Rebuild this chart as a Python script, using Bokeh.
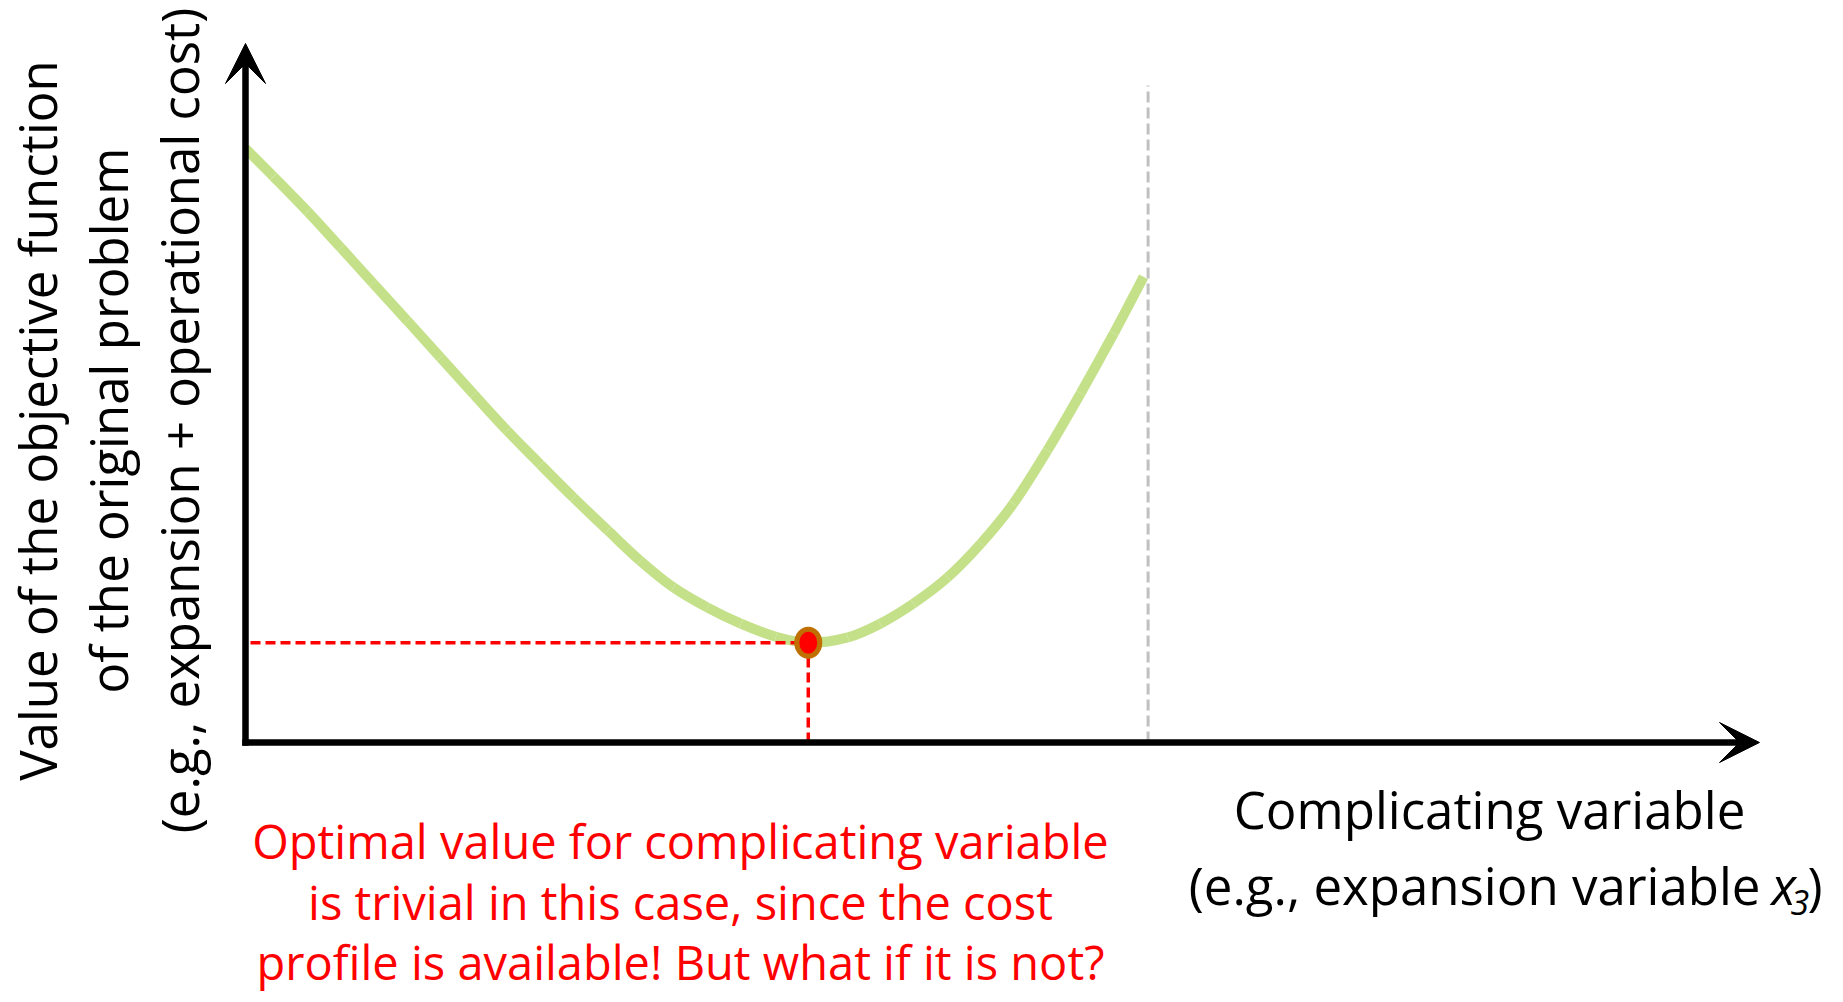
from bokeh.plotting import figure
from bokeh.models import Arrow, VeeHead, Label, Range1d, ColumnDataSource
from bokeh.embed import file_html
from bokeh.resources import INLINE

# ---------------- data (conceptual units) ----------------
# complicating variable (x) and objective value (y)
curve_x = [0.00, 0.31, 0.69, 1.06, 1.42, 1.80, 2.17, 2.54, 2.91, 3.28, 3.65, 4.03,
           4.39, 4.76, 5.14, 5.51, 5.90, 6.26, 6.70, 7.06, 7.43, 7.81, 8.18, 8.54,
           8.92, 9.29, 9.66, 9.99]
curve_y = [10.00, 9.53, 8.94, 8.33, 7.73, 7.10, 6.48, 5.86, 5.25, 4.68, 4.12, 3.57,
           3.06, 2.61, 2.27, 2.00, 1.78, 1.68, 1.77, 2.00, 2.34, 2.78, 3.35, 4.02,
           4.92, 5.88, 6.89, 7.84]
opt_x = 6.26
opt_y = 1.68
bound_x = 10.04          # upper bound of the complicating variable
bound_top = 11.06

ylabel_lines = ["Value of the objective function",
                "of the original problem",
                "(e.g., expansion + operational cost)"]
xlabel_line1 = "Complicating variable"
xlabel_line2 = "(e.g., expansion variable"
note_lines = ["Optimal value for complicating variable",
              "is trivial in this case, since the cost",
              "profile is available! But what if it is not?"]

# ---------------- layout helpers ----------------
W, H = 1835, 994
PX_X = 89.9     # pixels per x unit
PX_Y = 59.4     # pixels per y unit
X0_PAGE, Y0_PAGE = 245, 742   # pixel position of origin

def ux(px):
    return (px - X0_PAGE) / PX_X

def uy(py):
    return (Y0_PAGE - py) / PX_Y

p = figure(width=W, height=H, output_backend="svg", toolbar_location=None,
           x_axis_type=None, y_axis_type=None, min_border=0,
           x_range=Range1d(ux(0), ux(W)),
           y_range=Range1d(uy(H), uy(0)))
p.outline_line_color = None
p.grid.visible = False
p.background_fill_color = "white"
p.border_fill_color = "white"

# grey dashed bound line
p.line([bound_x, bound_x], [0, bound_top], line_color="#C0C0C0", line_width=3,
       line_dash="11 5")

# cost curve, drawn as a smooth Catmull-Rom spline through the read points
n = len(curve_x)
seg = dict(x0=[], y0=[], x1=[], y1=[], cx0=[], cy0=[], cx1=[], cy1=[])
for i in range(n - 1):
    a = max(i - 1, 0)
    d = min(i + 2, n - 1)
    seg["x0"].append(curve_x[i]); seg["y0"].append(curve_y[i])
    seg["x1"].append(curve_x[i + 1]); seg["y1"].append(curve_y[i + 1])
    seg["cx0"].append(curve_x[i] + (curve_x[i + 1] - curve_x[a]) / 6)
    seg["cy0"].append(curve_y[i] + (curve_y[i + 1] - curve_y[a]) / 6)
    seg["cx1"].append(curve_x[i + 1] - (curve_x[d] - curve_x[i]) / 6)
    seg["cy1"].append(curve_y[i + 1] - (curve_y[d] - curve_y[i]) / 6)
p.bezier("x0", "y0", "x1", "y1", "cx0", "cy0", "cx1", "cy1",
         source=ColumnDataSource(seg), line_color="#C4E18A", line_width=10)

# red dashed guides
p.line([ux(250), opt_x], [opt_y, opt_y], line_color="red", line_width=3.5, line_dash="10 5")
p.line([opt_x, opt_x], [0, opt_y], line_color="red", line_width=3.5, line_dash="10 5")

# optimum point
p.ellipse(x=[opt_x], y=[opt_y], width=23, height=27, width_units="screen",
          height_units="screen", fill_color="red", line_color="#C07000", line_width=5)

# axes with arrow heads
lw = 6.5
p.add_layout(Arrow(end=VeeHead(size=40, fill_color="black", line_color="black"),
                   x_start=0, y_start=-lw / 2 / PX_Y, x_end=0, y_end=uy(43),
                   line_color="black", line_width=lw))
p.add_layout(Arrow(end=VeeHead(size=40, fill_color="black", line_color="black"),
                   x_start=-lw / 2 / PX_X, y_start=0, x_end=ux(1759), y_end=0,
                   line_color="black", line_width=lw))

FONT = "Open Sans"
BIG = 51
SMALL = 47
K = 0.41   # baseline correction, fraction of font size

def lab(x, y, text, size, color="black", align="center", style="normal", angle=0.0):
    p.add_layout(Label(x=x, y=y, text=text, angle=angle, text_font=FONT,
                       text_font_size=f"{size}px", text_font_style=style,
                       text_color=color, text_align=align,
                       text_baseline="alphabetic"))

# y label (rotated)
for line, bx in zip(ylabel_lines, [57, 128, 199]):
    lab(ux(bx - K * BIG), uy(420), line, BIG, angle=1.5707963)

# x label
lab(ux(1489), uy(829 - K * BIG), xlabel_line1, BIG)
lab(ux(1760), uy(905 - K * BIG), xlabel_line2, BIG, align="right")
lab(ux(1771), uy(905 - K * BIG), "x", BIG, align="left", style="italic")
lab(ux(1790), uy(916 - K * 34), "3", 34, align="left", style="italic")
lab(ux(1807), uy(905 - K * BIG), ")", BIG, align="left")

# red note
for line, by in zip(note_lines, [860, 921, 981]):
    lab(ux(680), uy(by - K * SMALL), line, SMALL, color="red")

open("out.html", "w").write(file_html(p, INLINE))
